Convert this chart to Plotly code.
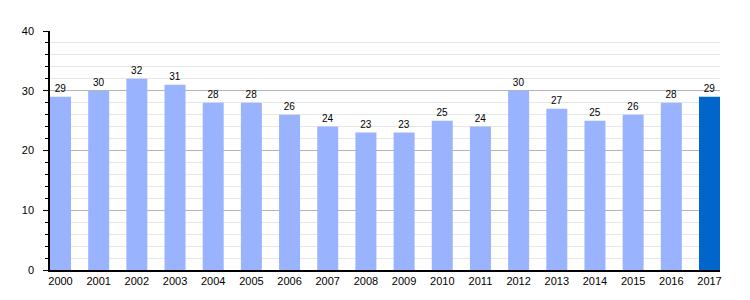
import plotly.graph_objects as go

years = [str(y) for y in range(2000, 2018)]
values = [29, 30, 32, 31, 28, 28, 26, 24, 23, 23, 25, 24, 30, 27, 25, 26, 28, 29]
colors = ["#99b3ff"] * 17 + ["#0066cc"]

fig = go.Figure()
fig.add_trace(go.Bar(
    x=years, y=values, marker_color=colors, marker_line_width=0,
    text=[str(v) for v in values], textposition="outside",
    textfont=dict(size=10, color="#000000", family="Liberation Sans, Arial, sans-serif"),
    cliponaxis=False, width=0.55,
))
fig.update_layout(
    width=750, height=300,
    margin=dict(l=50, r=30, t=31, b=30),
    plot_bgcolor="white", paper_bgcolor="white",
    showlegend=False,
    font=dict(family="Liberation Sans, Arial, sans-serif", size=11, color="#000000"),
)
fig.update_xaxes(
    type="category", range=[-0.275, 17.275],
    showline=True, linecolor="#000000", linewidth=1.5,
    ticks="", showgrid=False, tickfont=dict(size=11),
)
fig.update_yaxes(
    range=[0, 40], tickvals=[0, 10, 20, 30, 40],
    showline=True, linecolor="#000000", linewidth=1.5,
    ticks="outside", ticklen=5, tickcolor="#000000",
    ticklabelstandoff=7,
    showgrid=True, gridcolor="#b4b4b4", gridwidth=1,
    minor=dict(dtick=2, showgrid=True, gridcolor="#e6e6e6", ticks="outside", ticklen=3, tickcolor="#000000"),
    zeroline=False, tickfont=dict(size=11),
)
fig.write_html("out.html")
